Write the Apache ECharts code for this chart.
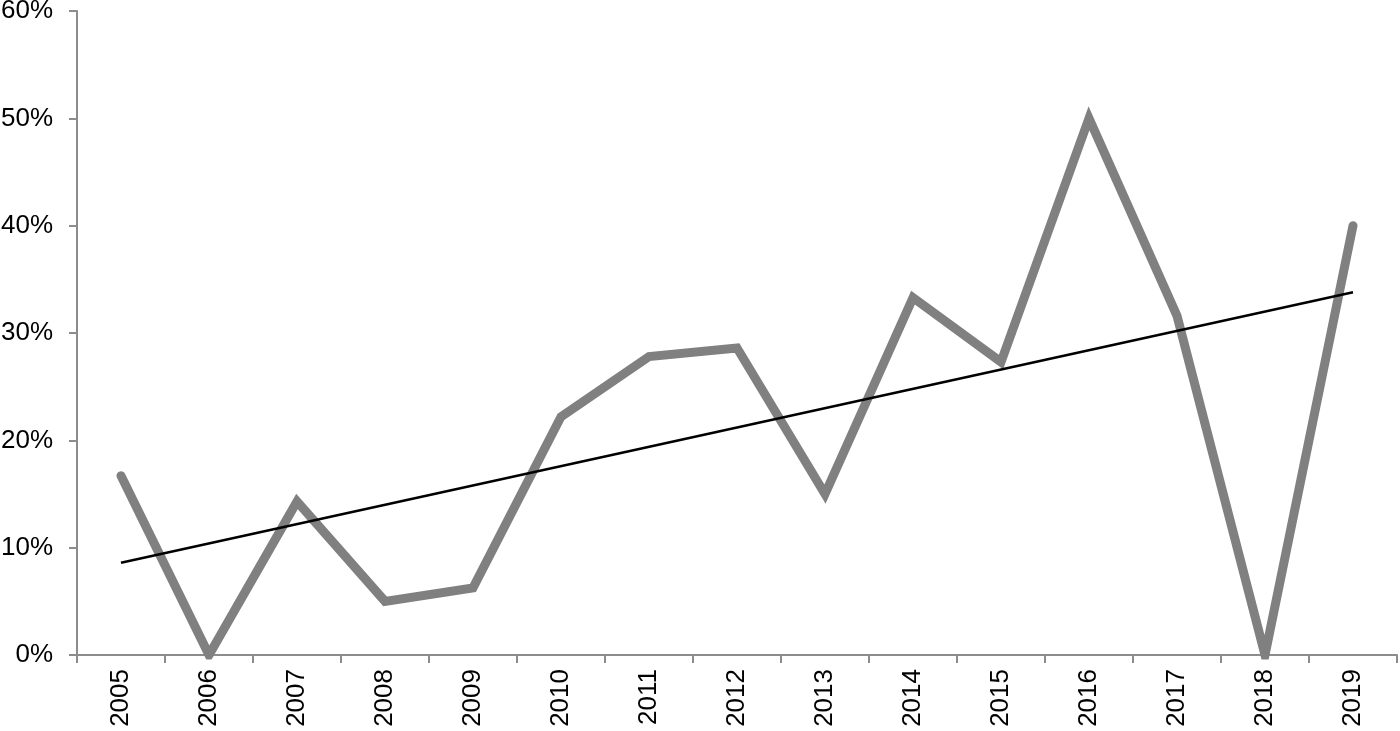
<!DOCTYPE html>
<html>
<head>
<meta charset="utf-8">
<script src="https://cdn.jsdelivr.net/npm/echarts@6/dist/echarts.min.js"></script>
<style>
  html, body { margin: 0; padding: 0; background: #fff; }
  #chart { width: 1400px; height: 731px; }
</style>
</head>
<body>
<div id="chart"></div>
<script>
// years on the x axis
const years = ['2005', '2006', '2007', '2008', '2009', '2010', '2011', '2012',
  '2013', '2014', '2015', '2016', '2017', '2018', '2019'];
// share per year, in percent
const shares = [16.7, 0, 14.3, 5.0, 6.25, 22.2, 27.8, 28.6, 15.0, 33.3, 27.3, 50.0, 31.6, 0, 40.0];
// linear trend, read at first and last year
const trendStart = 8.6;
const trendEnd = 33.8;
const trend = years.map((y, i) => i === 0 ? trendStart : (i === years.length - 1 ? trendEnd : null));

const axisGrey = '#8c8c8c';
const font = 'Liberation Sans, Arial, sans-serif';

const chart = echarts.init(document.getElementById('chart'));
chart.setOption({
  animation: false,
  grid: { left: 77, right: 3, top: 11, bottom: 76, containLabel: false, outerBoundsMode: 'none' },
  xAxis: {
    type: 'category',
    data: years,
    boundaryGap: true,
    axisLine: { lineStyle: { color: axisGrey, width: 2 } },
    axisTick: { show: true, length: 8, alignWithLabel: false, lineStyle: { color: axisGrey, width: 2 } },
    axisLabel: { rotate: 90, margin: 14, color: '#000', fontSize: 26, fontFamily: font, interval: 0 }
  },
  yAxis: {
    type: 'value',
    min: 0,
    max: 60,
    interval: 10,
    splitLine: { show: false },
    axisLine: { show: true, lineStyle: { color: axisGrey, width: 2 } },
    axisTick: { show: true, length: 8, lineStyle: { color: axisGrey, width: 2 } },
    axisLabel: { formatter: '{value}%', margin: 24, color: '#000', fontSize: 26, fontFamily: font }
  },
  series: [
    {
      type: 'line',
      data: shares,
      symbol: 'none',
      lineStyle: { color: '#808080', width: 9, cap: 'round', join: 'miter' },
      z: 2
    },
    {
      type: 'line',
      data: trend,
      connectNulls: true,
      symbol: 'none',
      lineStyle: { color: '#000', width: 2.5 },
      z: 3
    }
  ]
});
</script>
</body>
</html>
